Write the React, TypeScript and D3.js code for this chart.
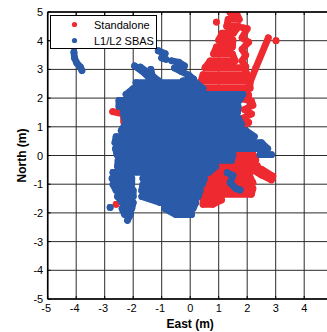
import { useEffect, useRef } from "react";
import * as d3 from "d3";

type Pt = [number, number];

const xTicks = [-5, -4, -3, -2, -1, 0, 1, 2, 3, 4, 5];
const yTicks = [-5, -4, -3, -2, -1, 0, 1, 2, 3, 4, 5];
const seriesNames = ["Standalone", "L1/L2 SBAS"];

// Standalone fixes (East, North in metres), traced as tracks of positions
const standaloneTopBand: Pt[] = [
  [1.4, 4.98], [1.62, 4.98], [1.72, 4.74], [1.33, 4.74], [1.28, 4.5], [1.7, 4.5],
  [1.52, 4.26], [1.12, 4.26], [1.0, 4.02], [1.5, 4.02], [1.48, 3.78], [0.92, 3.78],
  [0.82, 3.54], [1.48, 3.54], [1.58, 3.3], [0.7, 3.3], [0.52, 3.06], [1.9, 3.06],
  [2.0, 2.82], [0.45, 2.82], [0.38, 2.58], [2.1, 2.58], [2.1, 2.34], [0.2, 2.34],
  [0.1, 2.1], [2.05, 2.1],
];
const standaloneTopRight: Pt[] = [
  [1.85, 4.45], [2.0, 4.42], [1.82, 4.1], [2.05, 3.95], [1.82, 3.7], [1.95, 3.5],
  [1.82, 3.3], [1.95, 3.1],
];
const standaloneStreak: Pt[] = [[2.74, 4.1], [2.3, 3.05], [1.88, 2.0]];
const standaloneEastEdge: Pt[] = [
  [1.7, 2.0], [2.15, 1.9], [2.2, 1.75], [1.9, 1.6], [2.15, 1.45], [1.85, 1.3],
  [2.05, 1.15], [1.8, 1.0],
];
const standaloneSouthEast: Pt[] = [
  [1.3, 0.05], [2.2, 0.05], [2.3, -0.15], [1.2, -0.15], [0.8, -0.35], [2.35, -0.35],
  [2.15, -0.55], [0.6, -0.55], [0.55, -0.75], [2.1, -0.75], [2.2, -0.95], [0.5, -0.95],
  [0.45, -1.15], [2.2, -1.15], [2.15, -1.35], [0.45, -1.35], [0.45, -1.55], [1.1, -1.55],
  [0.8, -1.7], [0.45, -1.7],
];
const standaloneArm: Pt[] = [
  [2.1, -0.3], [2.5, -0.48], [2.9, -0.72], [2.85, -0.85], [2.5, -0.68], [2.2, -0.5],
];
const standaloneWestHook: Pt[] = [[-2.72, 1.53], [-2.35, 1.45], [-2.33, 1.18]];
const standaloneSingles: Pt[][] = [[[3.01, 4.0]], [[0.92, 4.65]], [[-2.6, -1.7]]];

// L1/L2 SBAS fixes
const sbasOutliers: Pt[] = [
  [-4.08, 3.6], [-4.06, 3.4], [-3.98, 3.22], [-3.85, 3.08], [-3.8, 2.96],
];
const sbasNorthWest: Pt[] = [
  [-1.95, 3.12], [-1.7, 2.95], [-1.45, 2.72], [-1.2, 2.55],
];
const sbasNorthWest2: Pt[] = [
  [-1.75, 3.08], [-1.5, 2.9], [-1.3, 2.75], [-1.1, 2.6],
];
const sbasBlobB: Pt[] = [[-1.12, 3.65], [-0.88, 3.55], [-1.0, 3.4], [-0.85, 3.35]];
const sbasSpur: Pt[] = [[-1.38, 3.0], [-1.3, 2.6]];
const sbasNorth: Pt[] = [
  [-0.65, 3.3], [-0.4, 3.25], [-0.2, 3.12], [-0.55, 3.05], [-0.3, 2.92], [-0.05, 2.8],
  [0.12, 2.66], [-0.25, 2.6], [0.25, 2.48],
];
const sbasCore: Pt[] = [
  [-1.9, 2.54], [0.2, 2.54], [0.45, 2.33], [-2.0, 2.33], [-2.25, 2.13], [1.85, 2.13],
  [1.72, 1.92], [-2.5, 1.92], [-2.5, 1.71], [1.68, 1.71], [1.66, 1.5], [-2.35, 1.5],
  [-2.3, 1.29], [1.7, 1.29], [1.8, 1.08], [-2.29, 1.08], [-2.42, 0.87], [1.95, 0.87],
  [2.25, 0.66], [-2.6, 0.66], [-2.64, 0.45], [2.5, 0.45], [2.72, 0.24], [-2.62, 0.24],
  [-2.57, 0.03], [1.5, 0.03], [1.45, -0.17], [-2.53, -0.17], [-2.55, -0.38], [0.9, -0.38],
  [0.65, -0.59], [-2.71, -0.59],
];
const sbasEastArm: Pt[] = [[2.45, 0.03], [2.85, 0.03]];
const sbasSouthWest: Pt[] = [
  [-2.74, -0.8], [-2.05, -0.8], [-2.05, -1.01], [-2.71, -1.01], [-2.6, -1.22], [-2.0, -1.22],
  [-2.0, -1.43], [-2.55, -1.43], [-2.39, -1.64], [-2.0, -1.64], [-2.05, -1.85], [-2.39, -1.85],
  [-2.3, -2.06], [-2.1, -2.06], [-2.2, -2.26],
];
const sbasSouth: Pt[] = [
  [-1.66, -0.8], [0.5, -0.8], [0.42, -1.01], [-1.66, -1.01], [-1.7, -1.22], [0.35, -1.22],
  [0.28, -1.43], [-1.7, -1.43], [-1.06, -1.64], [0.2, -1.64], [0.1, -1.85], [-0.9, -1.85],
  [-0.5, -2.06], [0.05, -2.06],
];
const sbasLoop: Pt[] = [[1.3, -0.6], [1.5, -0.7], [1.4, -0.95], [1.6, -1.15], [1.75, -1.2]];
const sbasSingles: Pt[][] = [[[-2.81, -1.81]]];

const standaloneTracks: Pt[][] = [
  standaloneTopBand, standaloneTopRight, standaloneStreak, standaloneEastEdge,
  standaloneSouthEast, standaloneArm, standaloneWestHook, ...standaloneSingles,
];
const sbasTracks: Pt[][] = [
  sbasOutliers, sbasNorthWest, sbasNorthWest2, sbasBlobB, sbasSpur, sbasNorth,
  sbasCore, sbasEastArm, sbasSouthWest, sbasSouth, sbasLoop, ...sbasSingles,
];

const App = () => {
  const ref = useRef<HTMLDivElement>(null);

  useEffect(() => {
    draw();
  }, []);

  function draw() {
    const width = 327;
    const height = 332;
    const colors = ["#ee2a30", "#2a5aa8"];
    const r = 3.4;
    const font = "'Liberation Sans', Arial, sans-serif";

    d3.select(ref.current).selectAll("*").remove();
    const svg = d3
      .select(ref.current)
      .append("svg")
      .attr("width", width)
      .attr("height", height)
      .style("display", "block");

    const x = d3.scaleLinear().domain([-5, 5]).range([47.7, 332.7]);
    const y = d3.scaleLinear().domain([-5, 5]).range([299, 12]);

    svg.append("rect").attr("width", width).attr("height", height).attr("fill", "white");

    svg
      .append("defs")
      .append("clipPath")
      .attr("id", "plotClip")
      .append("rect")
      .attr("x", x(-5))
      .attr("y", y(5))
      .attr("width", x(5) - x(-5))
      .attr("height", y(-5) - y(5));

    // grid
    const grid = svg.append("g").attr("stroke", "#2a2a2a").attr("stroke-width", 1);
    xTicks.forEach((t) => {
      grid.append("line").attr("x1", x(t)).attr("x2", x(t)).attr("y1", y(-5)).attr("y2", y(5));
    });
    yTicks.forEach((t) => {
      grid.append("line").attr("x1", x(-5)).attr("x2", x(5)).attr("y1", y(t)).attr("y2", y(t));
    });

    const line = d3
      .line<Pt>()
      .x((d) => x(d[0]))
      .y((d) => y(d[1]));

    const plot = svg.append("g").attr("clip-path", "url(#plotClip)");
    [standaloneTracks, sbasTracks].forEach((tracks, i) => {
      const g = plot.append("g");
      tracks.forEach((track) => {
        g.append("path")
          .attr("d", line(track))
          .attr("fill", "none")
          .attr("stroke", colors[i])
          .attr("stroke-width", 2 * r)
          .attr("stroke-linecap", "round")
          .attr("stroke-linejoin", "round");
        g.selectAll(null)
          .data(track)
          .enter()
          .append("circle")
          .attr("cx", (d) => x(d[0]))
          .attr("cy", (d) => y(d[1]))
          .attr("r", r)
          .attr("fill", colors[i]);
      });
    });

    // axes box
    const axis = svg.append("g").attr("stroke", "black").attr("stroke-width", 1.6);
    axis.append("line").attr("x1", x(-5)).attr("x2", width).attr("y1", y(5)).attr("y2", y(5));
    axis.append("line").attr("x1", x(-5)).attr("x2", width).attr("y1", y(-5)).attr("y2", y(-5));
    axis.append("line").attr("x1", x(-5)).attr("x2", x(-5)).attr("y1", y(5)).attr("y2", y(-5));

    const ticks = svg.append("g").attr("stroke", "black").attr("stroke-width", 1);
    xTicks.forEach((t) => {
      ticks.append("line").attr("x1", x(t)).attr("x2", x(t)).attr("y1", y(-5)).attr("y2", y(-5) - 3);
      ticks.append("line").attr("x1", x(t)).attr("x2", x(t)).attr("y1", y(5)).attr("y2", y(5) + 3);
    });
    yTicks.forEach((t) => {
      ticks.append("line").attr("x1", x(-5)).attr("x2", x(-5) + 3).attr("y1", y(t)).attr("y2", y(t));
    });

    // the right end of the axis runs past the figure edge, so its label is not shown
    svg
      .append("g")
      .selectAll("text")
      .data(xTicks.filter((t) => x(t) < width - 6))
      .enter()
      .append("text")
      .attr("x", (d) => x(d) - (d < 0 ? 1.5 : 0))
      .attr("y", y(-5) + 12.5)
      .attr("text-anchor", "middle")
      .attr("font-family", font)
      .attr("font-size", 11)
      .text((d) => d);

    svg
      .append("g")
      .selectAll("text")
      .data(yTicks)
      .enter()
      .append("text")
      .attr("x", x(-5) - 4.5)
      .attr("y", (d) => y(d) + 4)
      .attr("text-anchor", "end")
      .attr("font-family", font)
      .attr("font-size", 11)
      .text((d) => d);

    svg
      .append("text")
      .attr("x", x(0))
      .attr("y", 328)
      .attr("text-anchor", "middle")
      .attr("font-family", font)
      .attr("font-size", 12)
      .attr("font-weight", "bold")
      .text("East (m)");

    svg
      .append("text")
      .attr("transform", `translate(25.5, ${y(0)}) rotate(-90)`)
      .attr("text-anchor", "middle")
      .attr("font-family", font)
      .attr("font-size", 12)
      .attr("font-weight", "bold")
      .text("North (m)");

    // legend
    const legend = svg.append("g");
    legend
      .append("rect")
      .attr("x", 50.5)
      .attr("y", 15.5)
      .attr("width", 106)
      .attr("height", 33)
      .attr("fill", "white")
      .attr("stroke", "black")
      .attr("stroke-width", 1);
    seriesNames.forEach((name, i) => {
      legend
        .append("circle")
        .attr("cx", 74.5)
        .attr("cy", 24.5 + i * 16)
        .attr("r", 2.6)
        .attr("fill", colors[i]);
      legend
        .append("text")
        .attr("x", 94)
        .attr("y", 28.5 + i * 16)
        .attr("font-family", font)
        .attr("font-size", 11)
        .text(name);
    });
  }

  return <div ref={ref} style={{ position: "absolute", left: 0, top: 0 }} />;
};

export default App;
